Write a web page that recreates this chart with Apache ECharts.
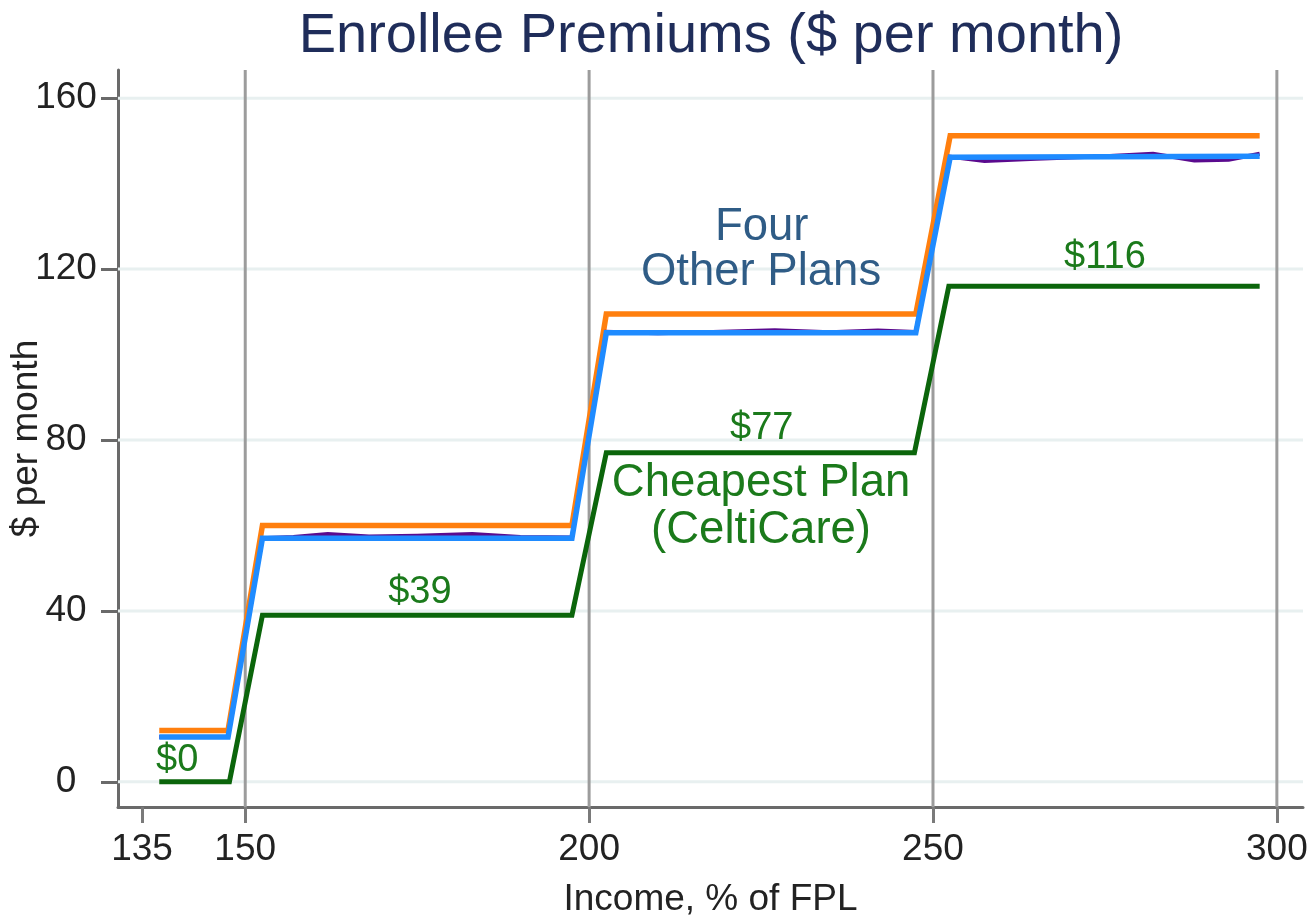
<!DOCTYPE html>
<html>
<head>
<meta charset="utf-8">
<script src="https://cdn.jsdelivr.net/npm/echarts@6/dist/echarts.min.js"></script>
<style>
html,body{margin:0;padding:0;background:#fff;}
#c{width:1311px;height:918px;}
</style>
</head>
<body>
<div id="c"></div>
<script>
// ---- data ----
const xTicks = [135, 150, 200, 250, 300];
const yTicks = [0, 40, 80, 120, 160];
const vLines = [150, 200, 250, 300];
const xRange = [131.5, 303.8];
const yRange = [-5.9, 166.6];

const orangeX = [137.5, 147.5, 152.5, 197.5, 202.5, 247.5, 252.5, 297.5];
const orangeY = [12, 12, 60, 60, 109.5, 109.5, 151.2, 151.2];

const blueX = [137.5, 147.5, 152.5, 197.5, 202.5, 247.5, 252.5, 297.5];
const blueY = [10.5, 10.5, 57, 57, 105.1, 105.1, 146.2, 146.4];

const purpleX = [137.5, 147.5, 152.5, 157, 162, 168, 175, 183, 190, 197.5, 202.5, 210, 218, 227, 235, 242, 247.5, 252.5, 257.5, 265, 275, 282, 288, 293, 297.5];
const purpleY = [10.5, 10.5, 57, 57.3, 58.0, 57.4, 57.6, 58.0, 57.3, 57.2, 105.3, 105, 105.3, 105.7, 105.2, 105.6, 105.3, 146.3, 145.3, 145.8, 146.4, 147.0, 145.4, 145.6, 147.0];

const greenX = [137.5, 147.7, 152.5, 197.5, 202.5, 247.3, 252.3, 297.5];
const greenY = [0, 0, 39, 39, 77, 77, 116, 116];

const annoText = ['$0', '$39', '$77', '$116', 'Four', 'Other Plans', 'Cheapest Plan', '(CeltiCare)'];
const annoX = [140.1, 175.4, 225.1, 275.0, 225.1, 225.0, 225.0, 225.0];
const annoY = [4.9, 44.2, 82.8, 122.6, 129.8, 119.3, 69.9, 58.9];
const annoColor = ['#1b7a1b', '#1b7a1b', '#1b7a1b', '#1b7a1b', '#2f5c86', '#2f5c86', '#1b7a1b', '#1b7a1b'];
const annoSize = [38, 38, 38, 38, 45.5, 45.5, 45.5, 45.5];

// ---- build ----
const FONT = '"Liberation Sans", Arial, Helvetica, sans-serif';
const zip = (xs, ys) => xs.map((x, i) => [x, ys[i]]);

const chart = echarts.init(document.getElementById('c'), null, {renderer: 'canvas'});

const lineSeries = (name, data, color, width, z) => ({
  name, type: 'line', data, symbol: 'none', z,
  lineStyle: {color, width, cap: 'butt', join: 'miter'},
  animation: false, silent: true, clip: false
});

const refSeries = []
  .concat(yTicks.map(v => lineSeries('h' + v, [[xRange[0], v], [xRange[1], v]], '#e8f0f0', 3, 1)))
  .concat(vLines.map(v => lineSeries('v' + v, [[v, yRange[0]], [v, yRange[1]]], '#9c9c9c', 3, 2)));

const option = {
  animation: false,
  backgroundColor: '#ffffff',
  textStyle: {fontFamily: FONT},
  graphic: [{
    type: 'text', x: 711, y: 37,
    style: {text: 'Enrollee Premiums ($ per month)', fill: '#1f2d5a', font: '56px ' + FONT,
      textAlign: 'center', textVerticalAlign: 'middle'}
  }],
  grid: {left: 118, right: 8, top: 70, bottom: 111, containLabel: false, outerBoundsMode: 'none'},
  xAxis: {
    type: 'value', min: xRange[0], max: xRange[1],
    name: 'Income, % of FPL', nameLocation: 'middle', nameGap: 74, nameMoveOverlap: false,
    nameTextStyle: {fontSize: 37, color: '#222', fontFamily: FONT},
    axisLine: {show: true, onZero: false, lineStyle: {color: '#6a6a6a', width: 3}},
    axisTick: {show: true, customValues: xTicks, length: 16, inside: false, lineStyle: {color: '#7a7a7a', width: 3}},
    axisLabel: {customValues: xTicks, fontSize: 37, color: '#222', margin: 24, fontFamily: FONT},
    splitLine: {show: false}
  },
  yAxis: {
    type: 'value', min: yRange[0], max: yRange[1],
    name: '$ per month', nameLocation: 'middle', nameGap: 73, nameRotate: 90, nameMoveOverlap: false,
    nameTextStyle: {fontSize: 37, color: '#222', fontFamily: FONT},
    axisLine: {show: true, onZero: false, lineStyle: {color: '#6a6a6a', width: 3}},
    axisTick: {show: true, customValues: yTicks, length: 17, lineStyle: {color: '#6a6a6a', width: 3}},
    axisLabel: {customValues: yTicks, fontSize: 37, color: '#222', margin: 52, align: 'center', fontFamily: FONT},
    splitLine: {show: false}
  },
  series: refSeries.concat([
    lineSeries('Green', zip(greenX, greenY), '#0b650b', 5, 3),
    lineSeries('Orange', zip(orangeX, orangeY), '#ff7f0e', 5.5, 4),
    lineSeries('Purple', zip(purpleX, purpleY), '#5a0a8e', 4, 5),
    lineSeries('Blue', zip(blueX, blueY), '#1f8bff', 5.5, 6),
    {
      name: 'labels', type: 'scatter', z: 10, silent: true, symbolSize: 1,
      itemStyle: {color: 'rgba(0,0,0,0)', opacity: 1},
      data: annoText.map((t, i) => ({
        value: [annoX[i], annoY[i]],
        label: {show: true, position: 'inside', formatter: t, color: annoColor[i], opacity: 1,
          fontSize: annoSize[i], fontFamily: FONT, align: 'center', verticalAlign: 'middle'}
      }))
    }
  ])
};
chart.setOption(option);
</script>
</body>
</html>
